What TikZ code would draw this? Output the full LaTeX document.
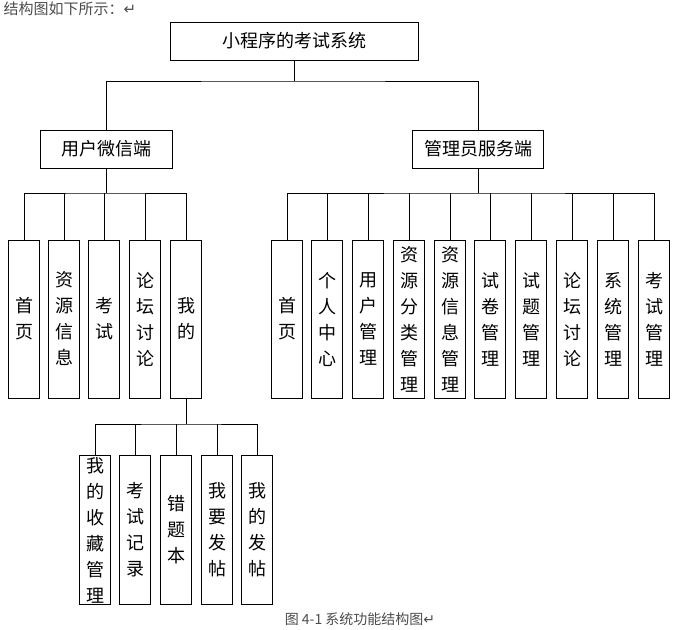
\documentclass[tikz,border=0pt]{standalone}
\usepackage{fontspec}
\setmainfont{Noto Sans CJK SC}
\newfontfamily\symf{DejaVu Sans}
\begin{document}
\begin{tikzpicture}[x=1pt,y=-1pt,
 box/.style={draw,thick,inner sep=0pt,font=\fontsize{18}{26}\selectfont,align=center},
 ln/.style={thick}]
\useasboundingbox (0,0) rectangle (679,629);
\node[anchor=west,font=\fontsize{15}{18}\selectfont,gray!60!black] at (0,9) {结构图如下所示：{\symf ↵}};
\node[font=\fontsize{14}{16}\selectfont,gray!60!black] at (360,619) {图 4-1 系统功能结构图{\symf ↵}};
% root
\node[box,minimum width=248,minimum height=38] (root) at (294,41) {小程序的考试系统};
\node[box,minimum width=132,minimum height=38] (u) at (106,149) {用户微信端};
\node[box,minimum width=131,minimum height=38] (a) at (478,149) {管理员服务端};
\coordinate (r1) at (294,81);
\draw[ln] (root.south) -- (r1);
\draw[ln] (u.north) |- (r1) -| (a.north);
% user children
\foreach \n/\x/\t in {u1/24/首\\页,u2/64/资\\源\\信\\息,u3/104/考\\试,u4/145/论\\坛\\讨\\论,u5/186/我\\的}{
 \node[box,minimum width=31,minimum height=158] (\n) at (\x,319) {\t};
}
\coordinate (uh) at (106,193);
\draw[ln] (u.south) -- (uh);
\draw[ln] (u1.north) |- (uh) -| (u5.north);
\foreach \n in {u2,u3,u4}{\draw[ln] (\n.north) -- (\n.north|-uh);}
% admin children
\foreach \n/\x/\t in {a1/287/首\\页,a2/327/个\\人\\中\\心,a3/368/用\\户\\管\\理,a4/409/资\\源\\分\\类\\管\\理,a5/450/资\\源\\信\\息\\管\\理,a6/490/试\\卷\\管\\理,a7/531/试\\题\\管\\理,a8/572/论\\坛\\讨\\论,a9/613/系\\统\\管\\理,a10/654/考\\试\\管\\理}{
 \node[box,minimum width=31,minimum height=158] (\n) at (\x,319) {\t};
}
\coordinate (ah) at (478,193);
\draw[ln] (a.south) -- (ah);
\draw[ln] (a1.north) |- (ah) -| (a10.north);
\foreach \n in {a2,a3,a4,a5,a6,a7,a8,a9}{\draw[ln] (\n.north) -- (\n.north|-ah);}
% my children
\foreach \n/\x/\t in {m1/95/我\\的\\收\\藏\\管\\理,m2/135/考\\试\\记\\录,m3/176/错\\题\\本,m4/217/我\\要\\发\\帖,m5/257/我\\的\\发\\帖}{
 \node[box,minimum width=31,minimum height=149] (\n) at (\x,530) {\t};
}
\coordinate (mh) at (186,424);
\draw[ln] (u5.south) -- (mh);
\draw[ln] (m1.north) |- (mh) -| (m5.north);
\foreach \n in {m2,m3,m4}{\draw[ln] (\n.north) -- (\n.north|-mh);}
\end{tikzpicture}
\end{document}
